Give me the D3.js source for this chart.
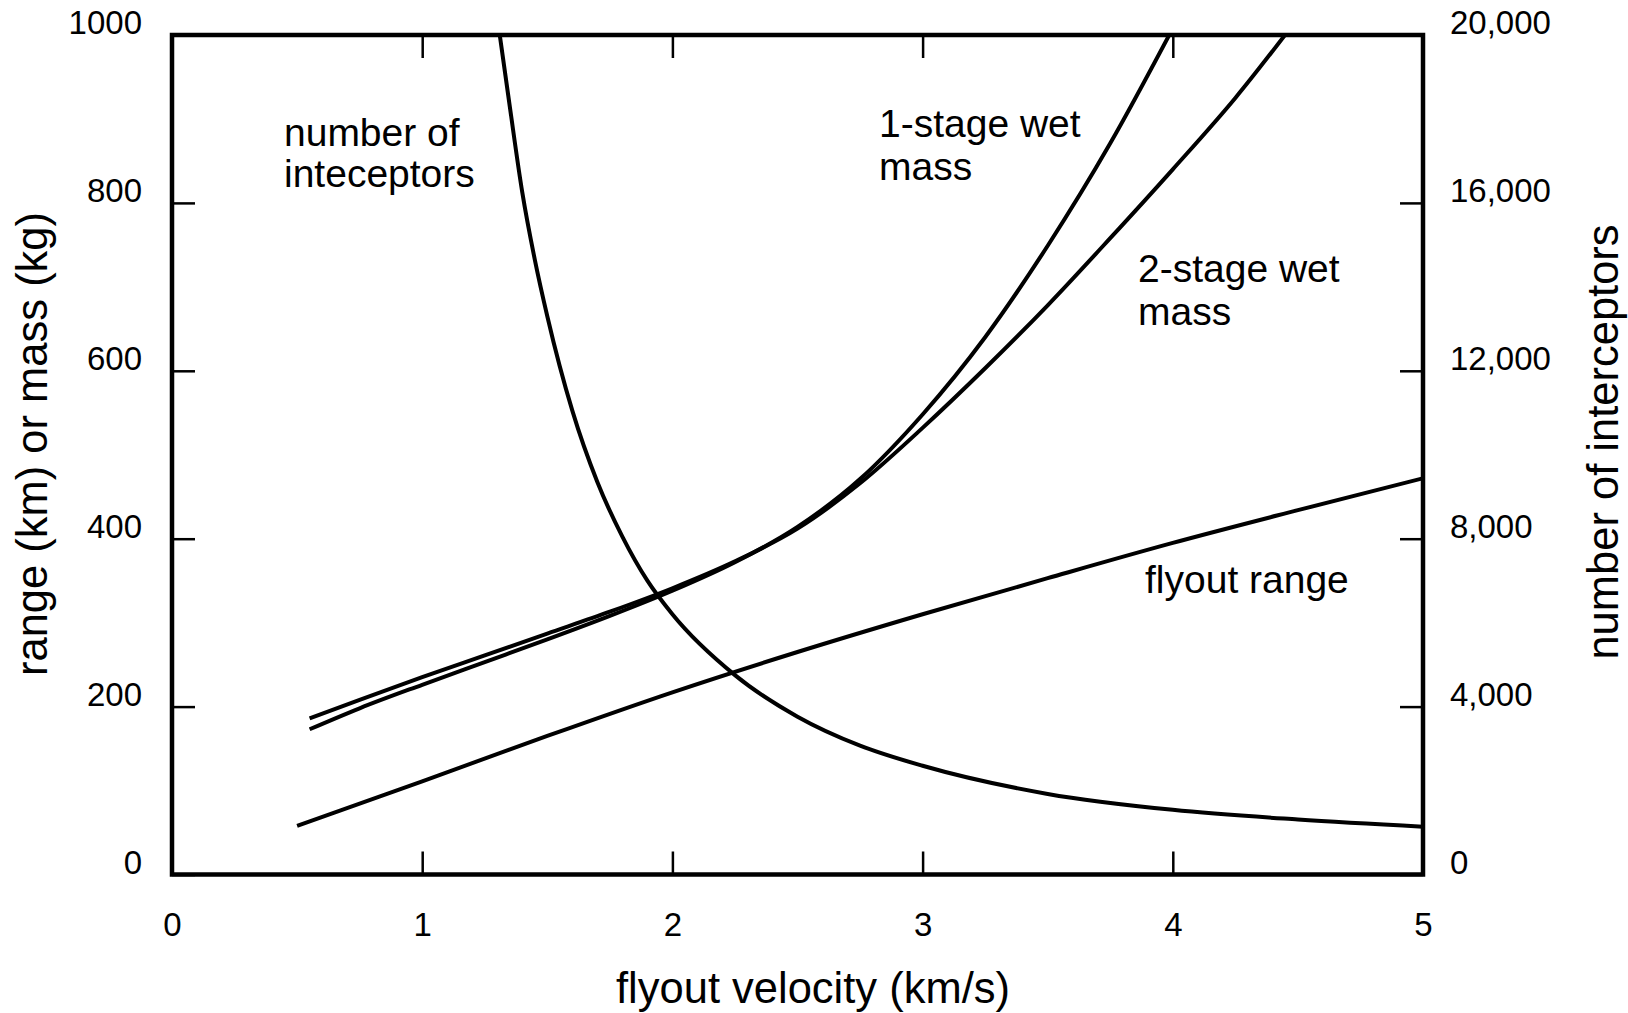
<!DOCTYPE html>
<html>
<head>
<meta charset="utf-8">
<script src="https://cdn.jsdelivr.net/npm/d3@7"></script>
<style>
  html, body { margin: 0; padding: 0; background: #fff; }
  svg { display: block; font-family: "Liberation Sans", Arial, Helvetica, sans-serif; }
</style>
</head>
<body>
<svg id="chart" width="1628" height="1013"></svg>
<script>
// ---------------- data ----------------
const xTicks = [0, 1, 2, 3, 4, 5];
const leftTicks = [0, 200, 400, 600, 800, 1000];
const rightTicks = [0, 4000, 8000, 12000, 16000, 20000];

const xTitle = "flyout velocity (km/s)";
const leftTitle = "range (km) or mass (kg)";
const rightTitle = "number of interceptors";

// flyout range (km), left axis
const rangeV   = [0.50, 1.00, 1.50, 2.00, 2.50, 3.00, 3.50, 4.00, 4.50, 5.00];
const rangeVal = [58,   111,  165,  217,  265,  310,  353,  395,  434,  472];

// 1-stage wet mass (kg), left axis
const stage1V   = [0.55, 0.75, 1.00, 1.25, 1.50, 1.75, 2.00, 2.25, 2.50, 2.75, 3.00, 3.25, 3.50, 3.75, 4.00];
const stage1Val = [173,  198,  226,  253,  280,  308,  338,  372,  414,  471,  548,  640,  749,  871,  1008];

// 2-stage wet mass (kg), left axis
const stage2V   = [0.55, 0.75, 1.00, 1.25, 1.50, 1.75, 2.00, 2.25, 2.50, 2.75, 3.00, 3.25, 3.50, 3.75, 4.00, 4.25, 4.50];
const stage2Val = [186,  208,  235,  261,  287,  313,  341,  373,  412,  466,  532,  603,  678,  758,  840,  925,  1020];

// number of interceptors, right axis
const interV   = [1.31,  1.35,  1.40,  1.45,  1.50,  1.60,  1.70, 1.80, 1.90, 2.00, 2.25, 2.50, 2.75, 3.00, 3.50, 4.00, 4.50, 5.00];
const interVal = [20000, 18300, 16250, 14650, 13300, 11050, 9350, 8050, 7000, 6200, 4750, 3760, 3070, 2590, 1920, 1540, 1310, 1140];

// annotation texts
const labelInterceptors = ["number of", "inteceptors"];
const labelStage1 = ["1-stage wet", "mass"];
const labelStage2 = ["2-stage wet", "mass"];
const labelRange = ["flyout range"];

// ---------------- layout ----------------
const svg = d3.select("#chart");
const L = 172, R = 1423, T = 35, B = 874.5;

const x = d3.scaleLinear().domain([0, 5]).range([L, R]);
const yL = d3.scaleLinear().domain([0, 1000]).range([B, T]);
const yR = d3.scaleLinear().domain([0, 20000]).range([B, T]);

svg.append("defs").append("clipPath").attr("id", "plotclip")
  .append("rect").attr("x", L).attr("y", T).attr("width", R - L).attr("height", B - T);

const tickLen = 23, tickFont = 33;

function styleAxis(g) {
  g.select(".domain").remove();
  g.selectAll(".tick line").attr("stroke", "#000").attr("stroke-width", 2.5);
  g.selectAll(".tick text").attr("fill", "#000").style("font-size", tickFont + "px");
}

// bottom axis
svg.append("g").attr("transform", `translate(0,${B})`)
  .call(d3.axisBottom(x).tickValues(xTicks).tickFormat(d3.format("d")).tickSize(-tickLen).tickPadding(38))
  .call(styleAxis);
// top axis (ticks only)
svg.append("g").attr("transform", `translate(0,${T})`)
  .call(d3.axisTop(x).tickValues(xTicks.slice(1, -1)).tickFormat("").tickSize(-tickLen))
  .call(styleAxis);
// left axis
svg.append("g").attr("transform", `translate(${L},0)`)
  .call(d3.axisLeft(yL).tickValues(leftTicks).tickFormat(d3.format("d")).tickSize(-tickLen).tickPadding(30))
  .call(styleAxis)
  .call(g => g.selectAll(".tick text").attr("y", -12));
// right axis
svg.append("g").attr("transform", `translate(${R},0)`)
  .call(d3.axisRight(yR).tickValues(rightTicks).tickFormat(d3.format(",")).tickSize(-tickLen).tickPadding(27))
  .call(styleAxis)
  .call(g => g.selectAll(".tick text").attr("y", -12));

// curves
const plot = svg.append("g").attr("clip-path", "url(#plotclip)");
function drawSeries(vs, vals, yScale) {
  const pts = vs.map((v, i) => [v, vals[i]]);
  plot.append("path")
    .datum(pts)
    .attr("fill", "none")
    .attr("stroke", "#000")
    .attr("stroke-width", 4)
    .attr("d", d3.line().x(d => x(d[0])).y(d => yScale(d[1])).curve(d3.curveMonotoneX));
}
drawSeries(rangeV, rangeVal, yL);
drawSeries(stage1V, stage1Val, yL);
drawSeries(stage2V, stage2Val, yL);
drawSeries(interV, interVal, yR);

// frame
svg.append("rect").attr("x", L).attr("y", T).attr("width", R - L).attr("height", B - T)
  .attr("fill", "none").attr("stroke", "#000").attr("stroke-width", 4.5);

// annotations
function annotate(lines, px, py, lh) {
  const t = svg.append("text").attr("x", px).attr("y", py).style("font-size", "39px").attr("fill", "#000");
  lines.forEach((s, i) => t.append("tspan").attr("x", px).attr("dy", i === 0 ? 0 : lh).text(s));
}
annotate(labelInterceptors, 284, 146, 41);
annotate(labelStage1, 879, 137, 43);
annotate(labelStage2, 1138, 282, 43);
annotate(labelRange, 1145, 593, 43);

// axis titles
svg.append("text").attr("x", 813).attr("y", 1003).attr("text-anchor", "middle")
  .style("font-size", "43.5px").text(xTitle);
svg.append("text").attr("transform", "translate(47,444) rotate(-90)").attr("text-anchor", "middle")
  .style("font-size", "43.5px").text(leftTitle);
svg.append("text").attr("transform", "translate(1618,442) rotate(-90)").attr("text-anchor", "middle")
  .style("font-size", "43.5px").text(rightTitle);
</script>
</body>
</html>
